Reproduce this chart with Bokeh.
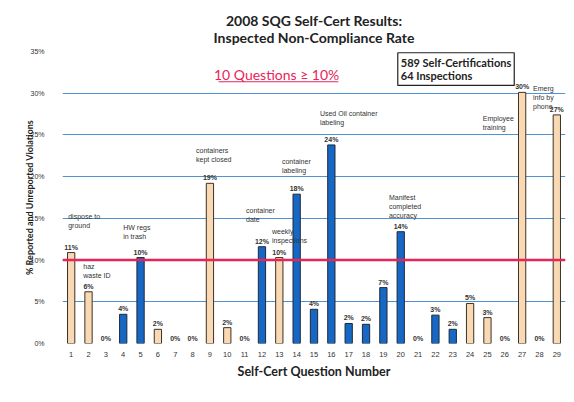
from bokeh.plotting import figure
from bokeh.models import Range1d, FixedTicker, Span, Label, BoxAnnotation, ColumnDataSource, Title
from bokeh.embed import file_html
from bokeh.resources import INLINE
from bokeh.core.properties import value

# ---------------- data ----------------
questions = list(range(1, 30))
rates = [10.9, 6.2, 0, 3.5, 10.3, 1.7, 0, 0, 19.2, 1.9, 0, 11.6, 10.3, 17.9, 4.1,
         23.8, 2.4, 2.3, 6.7, 13.4, 0, 3.4, 1.7, 4.8, 3.1, 0, 30.1, 0, 27.4]
rate_labels = ["11%", "6%", "0%", "4%", "10%", "2%", "0%", "0%", "19%", "2%", "0%", "12%",
               "10%", "18%", "4%", "24%", "2%", "2%", "7%", "14%", "0%", "3%", "2%", "5%",
               "3%", "0%", "30%", "0%", "27%"]
groups = ["light", "light", "light", "dark", "dark", "light", "light", "light", "light",
          "light", "light", "dark", "light", "dark", "dark", "dark", "dark", "dark", "dark",
          "dark", "light", "dark", "dark", "light", "light", "light", "light", "light", "light"]
y_ticks = [0, 5, 10, 15, 20, 25, 30, 35]
y_tick_labels = ["0%", "5%", "10%", "15%", "20%", "25%", "30%", "35%"]
threshold = 10

note_questions = [1, 2, 5, 9, 12, 13, 14, 16, 20, 27, 29]
note_texts = ["dispose to\nground", "haz\nwaste ID", "HW regs\nin trash", "containers\nkept closed",
              "container\ndate", "weekly\ninspections", "container\nlabeling",
              "Used Oil container\nlabeling", "Manifest\ncompleted\naccuracy",
              "Employee\ntraining", "Emerg\ninfo by\nphone"]

title_lines = ["2008 SQG Self-Cert Results:", "Inspected Non-Compliance Rate"]
callout_text = "10 Questions  \u2265 10%"
box_text = "589 Self-Certifications\n64 Inspections"
x_title = "Self-Cert Question Number"
y_title = "% Reported and Unreported Violations"

# ---------------- layout (placement of notes, in axis units) ----------------
note_dx = [-0.17, -0.30, -1.0, -0.8, -0.92, -0.42, -0.85, -0.66, -0.68, -2.27, -1.37]
note_top = [15.6, 9.7, 14.3, 23.6, 16.4, 13.8, 22.2, 28.0, 17.9, 27.4, 31.0]

W, H = 574, 402
fill_map = {"light": "#F9D8B4", "dark": "#1668C4"}
edge_map = {"light": "#3d3126", "dark": "#1d2a3a"}
RED = "#E8245A"

src = ColumnDataSource(dict(
    q=questions, r=rates, lab=rate_labels,
    fill=[fill_map[g] for g in groups],
    edge=[edge_map[g] if v > 0 else None for g, v in zip(groups, rates)],
))

p = figure(width=W, height=H, output_backend="svg", toolbar_location=None,
           x_range=Range1d(0.5, 29.5), y_range=Range1d(0, 35),
           min_border_left=62, min_border_right=9, min_border_top=51, min_border_bottom=59)
p.outline_line_color = None
p.background_fill_color = "white"
p.border_fill_color = "white"

p.vbar(x="q", top="r", bottom=0, width=0.42, source=src,
       fill_color="fill", line_color="edge", line_width=1)

p.text(x="q", y="r", text="lab", source=src, y_offset=-2,
       text_align="center", text_baseline="bottom",
       text_font=value("Liberation Sans"), text_font_size="7px",
       text_font_style="bold", text_color="#333333")

note_x = [q + d for q, d in zip(note_questions, note_dx)]
p.text(x=note_x, y=note_top, text=note_texts, text_align="left", text_baseline="top",
       text_font=value("Liberation Sans"), text_font_size="7px",
       text_color="#333333", text_line_height=1.3)

p.add_layout(Span(location=threshold, dimension="width", line_color=RED, line_width=2.5))

# axes
p.xaxis.ticker = FixedTicker(ticks=questions)
p.yaxis.ticker = FixedTicker(ticks=y_ticks)
p.yaxis.major_label_overrides = {t: s for t, s in zip(y_ticks, y_tick_labels)}
for ax in (p.xaxis[0], p.yaxis[0]):
    ax.axis_line_color = None
    ax.major_tick_line_color = None
    ax.minor_tick_line_color = None
    ax.major_label_text_font = "Liberation Sans"
    ax.major_label_text_color = "#333333"
    ax.axis_label_text_font = "Lato"
    ax.axis_label_text_font_style = "bold"
    ax.axis_label_text_color = "#222222"
p.xaxis.major_label_text_font_size = "7.5px"
p.yaxis.major_label_text_font_size = "7px"
p.xaxis.major_label_standoff = 2
p.yaxis.major_label_standoff = 12
p.xaxis.axis_label = x_title
p.yaxis.axis_label = y_title
p.xaxis.axis_label_text_font_size = "12.5px"
p.yaxis.axis_label_text_font_size = "9px"
p.xaxis.axis_label_standoff = 4
p.yaxis.axis_label_standoff = -8

p.xgrid.visible = False
p.ygrid.ticker = FixedTicker(ticks=y_ticks[1:])
p.ygrid.grid_line_color = "#4D93D6"
p.ygrid.grid_line_width = 1

# two title lines above the frame (the later one sits further out)
p.add_layout(Title(text=title_lines[1], align="center", offset=-18, standoff=11,
                   text_font="Lato", text_font_style="bold", text_font_size="14px",
                   text_color="#222222"), "above")
p.add_layout(Title(text=title_lines[0], align="center", offset=-18, standoff=-14,
                   text_font="Lato", text_font_style="bold", text_font_size="14px",
                   text_color="#222222"), "above")

# callout and info box (in axis units, inside the frame)
p.add_layout(Label(x=12.95, y=32.3, text=callout_text,
                   text_align="center", text_baseline="middle", text_font="Lato",
                   text_font_size="14px", text_color=RED))
p.add_layout(BoxAnnotation(left=9.5, right=16.4, bottom=31.3, top=31.42,
                           fill_color=RED, fill_alpha=1, line_color=None))
p.add_layout(Label(x=19.83, y=34.85, text=box_text,
                   text_align="left", text_baseline="top", text_font="Lato",
                   text_font_style="bold", text_font_size="11px", text_color="#222222",
                   text_line_height=1.05,
                   border_line_color="#222222", border_line_width=1.2,
                   background_fill_color="white", padding=3))

open("out.html", "w").write(file_html(p, INLINE))
